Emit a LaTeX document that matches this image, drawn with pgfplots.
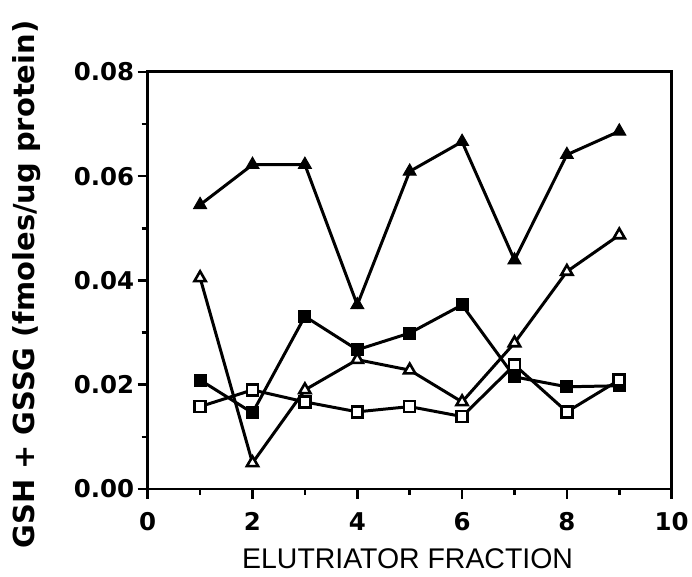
\documentclass[border=0pt]{standalone}
\usepackage{pgfplots}
\pgfplotsset{compat=1.18}
\usepackage{fontspec}
\setmainfont{DejaVu Sans}
\newfontfamily\labfont{Liberation Sans}
\begin{document}
\begin{tikzpicture}
\begin{axis}[
  scale only axis,
  width=525pt, height=418pt,
  xmin=0, xmax=10, ymin=0, ymax=0.08,
  clip=false,
  axis line style={line width=3pt},
  xtick={0,2,4,6,8,10},
  ytick={0,0.02,0.04,0.06,0.08},
  minor x tick num=1,
  minor y tick num=1,
  tick align=outside,
  xtick pos=bottom, ytick pos=left,
  major tick length=10pt, minor tick length=6pt,
  every tick/.style={black, line width=2.6pt},
  /pgf/number format/assume math mode=true,
  yticklabel style={/pgf/number format/fixed, /pgf/number format/fixed zerofill, /pgf/number format/precision=2},
  scaled y ticks=false,
  ticklabel style={font=\fontsize{24.5}{28}\selectfont\bfseries},
  xticklabel style={yshift=-10pt},
  ylabel={GSH + GSSG (fmoles/ug protein)},
  xlabel={ELUTRIATOR FRACTION},
  ylabel style={at={(rel axis cs:-0.2305,0.49)}, anchor=center, inner sep=0pt, font=\fontsize{29}{32}\selectfont\bfseries},
  xlabel style={at={(rel axis cs:0.496,-0.168)}, anchor=center, inner sep=0pt, font=\labfont\fontsize{28.5}{32}\selectfont},
  every axis plot/.append style={black, line width=3pt},
]
\path (rel axis cs:-0.2819,-0.2105) rectangle (rel axis cs:1.0362,1.1722);
% filled triangles
\addplot[mark=triangle*, mark size=7.5pt, mark options={solid, fill=black, line width=1pt}] coordinates {
(1,0.0545) (2,0.0622) (3,0.0622) (4,0.0353) (5,0.0609) (6,0.0666) (7,0.0439) (8,0.0641) (9,0.0686)};
% open triangles
\addplot[mark=triangle*, mark size=6.5pt, mark options={solid, fill=white, line width=2.6pt}] coordinates {
(1,0.0405) (2,0.0050) (3,0.0190) (4,0.0248) (5,0.0228) (6,0.0167) (7,0.0280) (8,0.0417) (9,0.0487)};
% filled squares
\addplot[mark=square*, mark size=6pt, mark options={solid, fill=black, line width=1pt}] coordinates {
(1,0.0209) (2,0.0146) (3,0.0331) (4,0.0267) (5,0.0299) (6,0.0353) (7,0.0215) (8,0.0196) (9,0.0198)};
% open squares
\addplot[mark=square*, mark size=5.5pt, mark options={solid, fill=white, line width=2.6pt}] coordinates {
(1,0.0158) (2,0.0190) (3,0.0167) (4,0.0148) (5,0.0158) (6,0.0139) (7,0.0238) (8,0.0148) (9,0.0209)};
\end{axis}
\end{tikzpicture}
\end{document}
